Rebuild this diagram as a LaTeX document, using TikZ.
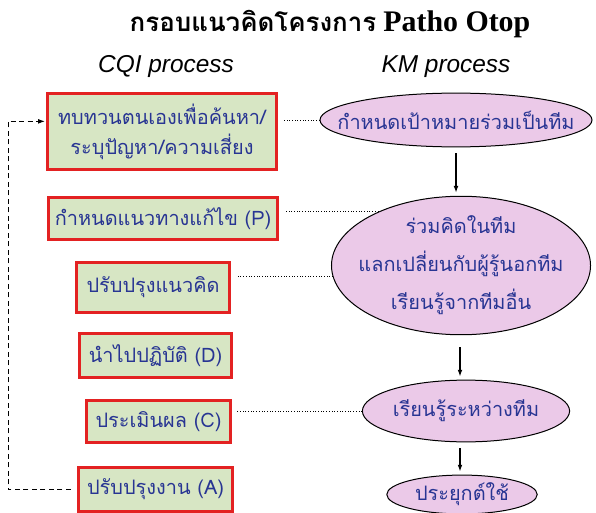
\documentclass[tikz,border=0pt]{standalone}
\usepackage{fontspec}
\setmainfont{Liberation Sans}
\newfontfamily\thaifont[Script=Thai]{Loma}
\newfontfamily\titleserif{Liberation Serif}
\usetikzlibrary{arrows.meta,shapes.geometric}
\definecolor{boxgreen}{HTML}{D7E6C4}
\definecolor{boxred}{HTML}{E32222}
\definecolor{kmpink}{HTML}{EBC9E8}
\definecolor{txtblue}{HTML}{283593}

\begin{document}
\begin{tikzpicture}[x=1bp, y=-1bp, >={Latex[length=2.4mm,width=1.7mm]},
	cqi/.style={draw=boxred, line width=3bp, fill=boxgreen, text=txtblue, align=center, inner sep=0pt, font=\thaifont\fontsize{20}{30}\selectfont},
	km/.style={ellipse, draw, line width=1bp, fill=kmpink, text=txtblue, align=center, inner xsep=-40bp, inner ysep=-12bp, font=\thaifont\fontsize{20}{38}\selectfont},
	link/.style={dotted, line width=0.7bp, shorten >=5bp},
	flow/.style={->, line width=1.3bp, shorten <=6bp, shorten >=3bp}]
	\useasboundingbox (0,0) rectangle (596,513);
	% headings
	\node (title) at (330,24) {{\thaifont\bfseries\fontsize{26}{30}\selectfont กรอบแนวคิดโครงการ}\hspace{7bp}{\titleserif\bfseries\fontsize{30}{30}\selectfont Patho Otop}};
	\node[font=\itshape\fontsize{24.5}{26}\selectfont] (cqih) at (166,67) {CQI process};
	\node[font=\itshape\fontsize{24.5}{26}\selectfont] (kmh) at (446,67) {KM process};
	% CQI boxes
	\node[cqi, minimum width=230, minimum height=77] (b1) at (162,131.5) {ทบทวนตนเองเพื่อค้นหา/\\ระบุปัญหา/ความเสี่ยง};
	\node[cqi, minimum width=230, minimum height=43] (b2) at (163,218.5) {กำหนดแนวทางแก้ไข (P)};
	\node[cqi, minimum width=154, minimum height=51] (b3) at (153,287.5) {ปรับปรุงแนวคิด};
	\node[cqi, minimum width=153, minimum height=45] (b4) at (155.5,355.5) {นำไปปฏิบัติ (D)};
	\node[cqi, minimum width=145, minimum height=43] (b5) at (158.5,421.5) {ประเมินผล (C)};
	\node[cqi, minimum width=155, minimum height=45] (b6) at (155.5,489.5) {ปรับปรุงงาน (A)};
	% KM ellipses
	\node[km, minimum width=273, minimum height=54] (e1) at (456,120) {กำหนดเป้าหมายร่วมเป็นทีม};
	\node[km, minimum width=260, minimum height=139] (e2) at (461,265.5) {ร่วมคิดในทีม\\แลกเปลี่ยนกับผู้รู้นอกทีม\\เรียนรู้จากทีมอื่น};
	\node[km, minimum width=208, minimum height=62] (e3) at (466,411) {เรียนรู้ระหว่างทีม};
	\node[km, minimum width=151, minimum height=39] (e4) at (462,494.5) {ประยุกต์ใช้};
	% KM flow
	\draw[flow] (e1.south) -- (e1.south |- e2.north);
	\draw[flow, shorten <=12bp] (e2.south -| 460,0) -- (e3.north -| 460,0);
	\draw[flow] (e3.south -| 460,0) -- (e4.north -| 460,0);
	% dotted links
	\draw[link] (e1.west) -- (e1.west -| b1.east);
	\draw[link] (e2.147) -- (e2.147 -| b2.east);
	\draw[link] (e2.185) -- (e2.185 -| b3.east);
	\draw[link] (e3.west) -- (e3.west -| b5.east);
	% feedback loop
	\coordinate (back) at (8,0);
	\draw[->, line width=1bp, dash pattern=on 5bp off 3.5bp, shorten <=6bp, shorten >=1bp] (b6.west) -- (back |- b6.west) |- (b1.175);
\end{tikzpicture}
\end{document}
